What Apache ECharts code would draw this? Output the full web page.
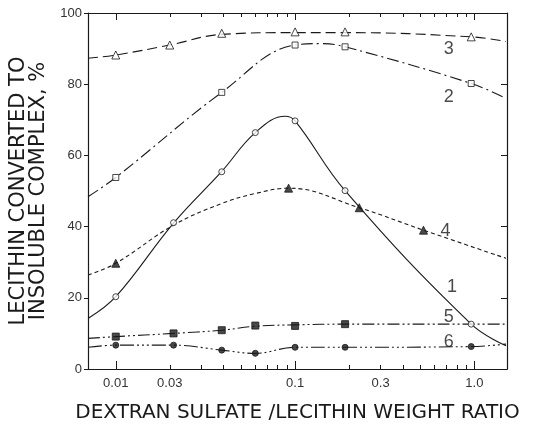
<!DOCTYPE html>
<html>
<head>
<meta charset="utf-8">
<script src="https://cdn.jsdelivr.net/npm/echarts@6/dist/echarts.min.js"></script>
<style>html,body{margin:0;padding:0;background:#fff}#c{width:538px;height:428px}</style>
</head>
<body>
<div id="c"></div>
<script>
// ---- axis ticks / labels ----
const xMajorTicks = [0.01, 0.1, 1];
const xMinorTicks = [0.02,0.03,0.04,0.05,0.06,0.07,0.08,0.09,0.2,0.3,0.4,0.5,0.6,0.7,0.8,0.9];
const xLabelPositions = [0.01, 0.02, 0.1, 0.3, 1];
const xLabelTexts = ['0.01', '0.03', '0.1', '0.3', '1.0'];
const yTicks = [0, 20, 40, 60, 80, 100];

// ---- curve 1 (solid, open circles) ----
const curve1X = [0.007, 0.01, 0.021, 0.039, 0.06, 0.088, 0.1, 0.19, 0.96, 1.5];
const curve1Y = [14.2, 20.3, 41.0, 55.5, 66.4, 71.0, 69.7, 50.1, 12.6, 6.5];
const pts1X = [0.01, 0.021, 0.039, 0.06, 0.1, 0.19, 0.96];
const pts1Y = [20.3, 41.1, 55.4, 66.4, 69.7, 50.1, 12.6];

// ---- curve 2 (dash-dot, open squares) ----
const curve2X = [0.007, 0.01, 0.039, 0.1, 0.14, 0.19, 0.96, 1.5];
const curve2Y = [48.4, 53.8, 77.7, 91.0, 91.4, 90.5, 80.2, 76.0];
const pts2X = [0.01, 0.039, 0.1, 0.19, 0.96];
const pts2Y = [53.8, 77.7, 91.0, 90.5, 80.2];

// ---- curve 3 (dashed, open triangles) ----
const curve3X = [0.007, 0.01, 0.02, 0.039, 0.1, 0.19, 0.96, 1.5];
const curve3Y = [87.3, 88.2, 91.0, 94.0, 94.5, 94.5, 93.3, 92.0];
const pts3X = [0.01, 0.02, 0.039, 0.1, 0.19, 0.96];
const pts3Y = [88.2, 91.0, 94.3, 94.7, 94.7, 93.3];

// ---- curve 4 (short dashes, filled triangles) ----
const curve4X = [0.007, 0.01, 0.021, 0.039, 0.06, 0.092, 0.228, 0.52, 1.5];
const curve4Y = [26.4, 29.7, 40.4, 46.5, 49.3, 50.8, 45.3, 39.0, 31.1];
const pts4X = [0.01, 0.092, 0.228, 0.52];
const pts4Y = [29.7, 50.8, 45.3, 39.0];

// ---- curve 5 (dash-dot-dot, filled squares) ----
const curve5X = [0.007, 0.01, 0.021, 0.039, 0.06, 0.1, 0.19, 1.5];
const curve5Y = [8.6, 9.1, 10.0, 10.9, 12.0, 12.4, 12.6, 12.6];
const pts5X = [0.01, 0.021, 0.039, 0.06, 0.1, 0.19];
const pts5Y = [9.1, 10.0, 10.9, 12.2, 12.1, 12.6];

// ---- curve 6 (dash-dot-dot-dot, filled circles) ----
const curve6X = [0.007, 0.01, 0.021, 0.039, 0.06, 0.1, 0.19, 0.96, 1.5];
const curve6Y = [6.1, 6.7, 6.7, 5.3, 4.4, 6.1, 6.1, 6.3, 7.0];
const pts6X = [0.01, 0.021, 0.039, 0.06, 0.1, 0.19, 0.96];
const pts6Y = [6.7, 6.7, 5.3, 4.4, 6.1, 6.1, 6.3];

// ---- curve number labels (data coordinates) ----
const curveNames = ['1', '2', '3', '4', '5', '6'];
const curveLabelX = [0.75, 0.72, 0.72, 0.69, 0.72, 0.72];
const curveLabelY = [22.9, 76.4, 89.9, 38.8, 14.7, 7.7];

const INK = '#1a1a1a';
const zip = (xs, ys) => xs.map((x, i) => [x, ys[i]]);

function xAxisDef(pos, ticks, len, withLabels) {
  return {
    type: 'log', logBase: 10, min: 0.007, max: 1.52, position: pos,
    axisLine: { show: true, lineStyle: { color: INK, width: 1.2 } },
    axisTick: { show: true, inside: true, length: len, customValues: ticks, lineStyle: { color: INK, width: 1 } },
    axisLabel: withLabels ? {
      show: true, customValues: xLabelPositions, margin: 8,
      fontFamily: 'Liberation Sans', fontSize: 13, color: '#333',
      formatter: v => { const i = xLabelPositions.findIndex(p => Math.abs(p - v) < 1e-9); return i >= 0 ? xLabelTexts[i] : ''; }
    } : { show: false },
    splitLine: { show: false }, minorTick: { show: false }
  };
}

const lineStyles = [
  { type: 'solid' },
  { type: [12, 4, 2, 4] },
  { type: [10, 5] },
  { type: [4, 3] },
  { type: [12, 3, 2, 3, 2, 3] },
  { type: [14, 3, 2, 3, 2, 3, 2, 3] }
];
const curves = [
  zip(curve1X, curve1Y), zip(curve2X, curve2Y), zip(curve3X, curve3Y),
  zip(curve4X, curve4Y), zip(curve5X, curve5Y), zip(curve6X, curve6Y)
];
const pointSets = [
  zip(pts1X, pts1Y), zip(pts2X, pts2Y), zip(pts3X, pts3Y),
  zip(pts4X, pts4Y), zip(pts5X, pts5Y), zip(pts6X, pts6Y)
];
const symbols = [
  { symbol: 'circle', size: 6, fill: '#fff' },
  { symbol: 'rect', size: 6, fill: '#fff' },
  { symbol: 'triangle', size: 8, fill: '#fff' },
  { symbol: 'triangle', size: 8, fill: INK },
  { symbol: 'rect', size: 7, fill: INK },
  { symbol: 'circle', size: 6, fill: INK }
];

const series = [];
curves.forEach((c, i) => {
  series.push({
    type: 'line', data: c, smooth: 0.4, showSymbol: false, silent: true, z: 2,
    lineStyle: Object.assign({ color: INK, width: 1.1 }, lineStyles[i])
  });
});
pointSets.forEach((p, i) => {
  series.push({
    type: 'scatter', data: p, symbol: symbols[i].symbol, symbolSize: symbols[i].size, z: 3,
    itemStyle: { color: symbols[i].fill, borderColor: INK, borderWidth: 1 }
  });
});
series.push({
  type: 'scatter', symbolSize: 0, z: 4,
  data: curveNames.map((n, i) => ({ name: n, value: [curveLabelX[i], curveLabelY[i]] })),
  label: { show: true, position: 'inside', formatter: '{b}', fontFamily: 'Liberation Sans', fontSize: 18, color: INK }
});

const chart = echarts.init(document.getElementById('c'), null, { renderer: 'canvas' });
chart.setOption({
  animation: false,
  backgroundColor: '#fff',
  grid: { left: 88, right: 31, top: 13, bottom: 59, containLabel: false, outerBoundsMode: 'none' },
  xAxis: [
    Object.assign(xAxisDef('bottom', xMinorTicks, 4, true), {
      name: 'DEXTRAN SULFATE /LECITHIN WEIGHT RATIO', nameLocation: 'middle', nameGap: 34,
      nameTextStyle: { fontFamily: 'DejaVu Sans', fontSize: 20, color: INK }
    }),
    xAxisDef('bottom', xMajorTicks, 8, false),
    xAxisDef('top', xMinorTicks, 4, false),
    xAxisDef('top', xMajorTicks, 7, false)
  ],
  yAxis: [
    {
      type: 'value', min: 0, max: 100, interval: 20, position: 'left',
      name: 'LECITHIN CONVERTED TO\nINSOLUBLE COMPLEX, %', nameLocation: 'middle', nameGap: 30, nameRotate: 90,
      nameTextStyle: { fontFamily: 'DejaVu Sans', fontSize: 21, color: INK, lineHeight: 20 },
      axisLine: { show: true, lineStyle: { color: INK, width: 1.2 } },
      axisTick: { show: true, inside: false, length: 4, lineStyle: { color: INK } },
      axisLabel: { margin: 6, fontFamily: 'Liberation Sans', fontSize: 13, color: '#333' },
      splitLine: { show: false }
    },
    {
      type: 'value', min: 0, max: 100, interval: 20, position: 'right',
      axisLine: { show: true, lineStyle: { color: INK, width: 1.2 } },
      axisTick: { show: true, inside: true, length: 6, lineStyle: { color: INK } },
      axisLabel: { show: false }, splitLine: { show: false }
    }
  ],
  series: series
});
</script>
</body>
</html>
